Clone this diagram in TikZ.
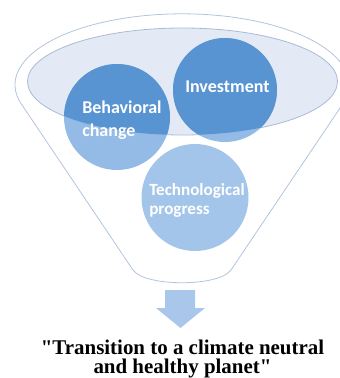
\documentclass[tikz,border=0pt]{standalone}
\usepackage{fontspec}
\setmainfont{Liberation Serif}[Ligatures=TeXOff]
\setsansfont{Carlito}
\definecolor{funnelline}{HTML}{B3C5DD}
\definecolor{ellfill}{HTML}{E3EAF5}
\definecolor{elldraw}{HTML}{A9BBD5}
\definecolor{circdark}{HTML}{5893D2}
\definecolor{circlight}{HTML}{93BBE5}
\definecolor{circtech}{HTML}{A4C5EA}
\definecolor{arrowc}{HTML}{A9C7EB}
\tikzset{
  ctext/.style={font=\sffamily\bfseries\fontsize{13.5}{16.8}\selectfont, text=white, align=left, inner sep=0pt},
  goal/.style={font=\bfseries\fontsize{15.7}{14.3}\selectfont, align=center, inner sep=0pt},
}
\begin{document}
\begin{tikzpicture}[x=0.75pt,y=-0.75pt]
\useasboundingbox (0,0) rectangle (339,378);
% funnel outline
\draw[funnelline, line width=0.6pt, fill=white]
  (20,102) arc[start angle=166, end angle=374, x radius=167, y radius=71]
  -- (231,270) .. controls (219,287) and (145,287) .. (133,270) -- cycle;
% inner ellipse
\path[fill=ellfill, draw=elldraw, line width=0.6pt] (182.5,81.5) ellipse[x radius=155, y radius=53.5];
% circles
\fill[circlight] (117,117) circle[radius=53];
\fill[circlight] (225,90) circle[radius=52];
\fill[circtech] (195,197.5) circle[radius=53.5];
\begin{scope}
  \clip (182.5,81.5) ellipse[x radius=155, y radius=53.5];
  \fill[circdark] (117,117) circle[radius=53];
  \fill[circdark] (225,90) circle[radius=52];
\end{scope}
% labels
\node[ctext, anchor=base west] (beh) at (82,136) {Behavioral\\change};
\node[ctext, anchor=base west] (inv) at (185,93) {Investment};
\node[ctext, anchor=base west, font=\sffamily\bfseries\fontsize{12.8}{14.6}\selectfont] (tech) at (149,214.5) {Technological\\progress};
% arrow
\fill[arrowc] (165,290) -- (195,290) -- (195,308) -- (205,308) -- (180.5,328) -- (156,308) -- (165,308) -- cycle;
\node[goal, anchor=north] (goal) at (182.5,340) {"Transition to a climate neutral\\and healthy planet"};
\end{tikzpicture}
\end{document}
